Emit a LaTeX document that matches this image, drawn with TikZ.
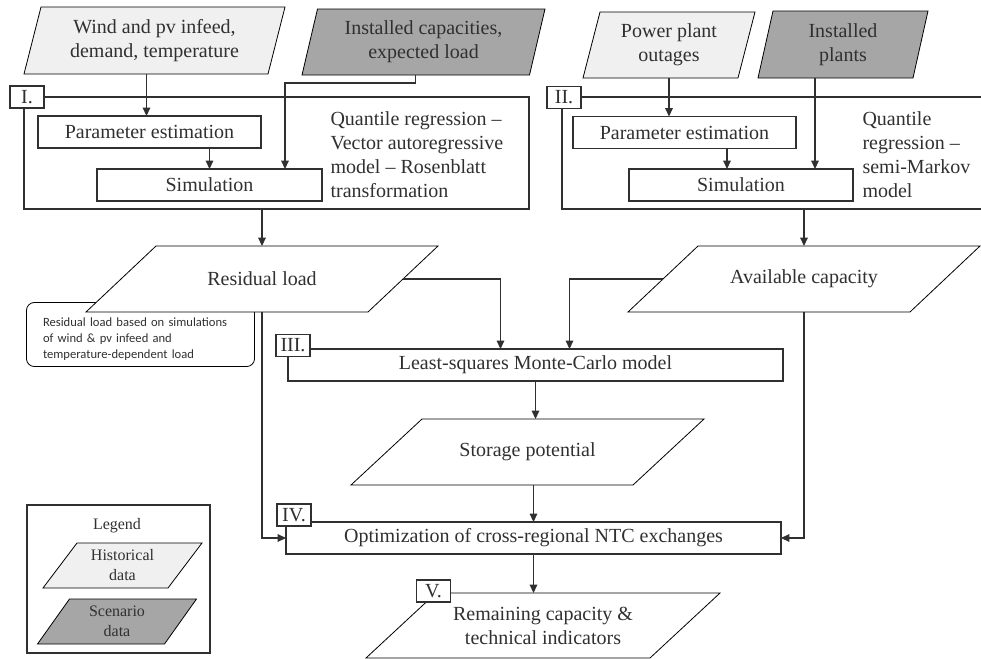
\documentclass[tikz,border=0pt]{standalone}
\usepackage{fontspec}
\setmainfont{Liberation Serif}
\newfontfamily\notefont{Carlito}
\usetikzlibrary{arrows.meta,positioning,fit,backgrounds}

\definecolor{histgray}{HTML}{F0F0F0}
\definecolor{scengray}{HTML}{A6A6A6}
\definecolor{inkgray}{HTML}{303030}

% parallelogram inside the box of a named node: node, slant, fill
\newcommand{\dataframe}[3]{%
  \draw[fill=#3] ([xshift=#2]#1.north west) -- (#1.north east)
    -- ([xshift=-#2]#1.south east) -- (#1.south west) -- cycle;}

\begin{document}
\begin{tikzpicture}[
    font=\fontsize{10}{12}\selectfont,
    >={Triangle[length=4.2pt,width=3.8pt]},
    x=0.5pt, y=-0.5pt,
    color=inkgray, line width=0.55pt,
    data/.style={rectangle, align=center, inner sep=0pt, outer sep=0pt, minimum height=33pt},
    keyitem/.style={data, minimum height=22.5pt, minimum width=79.5pt, font=\fontsize{8}{10}\selectfont},
    stepbox/.style={draw, rectangle, outer sep=0pt, minimum height=16pt},
    frame/.style={draw, rectangle, inner sep=0pt, outer sep=0pt},
    tag/.style={draw, fill=white, minimum width=17pt, minimum height=11pt, inner sep=1pt},
    method/.style={align=left, anchor=north west, inner sep=0pt},
    note/.style={align=left, inner xsep=8pt, inner ysep=1pt, text width=97.5pt, minimum height=31.5pt,
        font=\notefont\fontsize{6.3}{8}\selectfont}
]
    \useasboundingbox (0,0) rectangle (981,659);

    % I. residual load block
    \node[frame, fit={(24,97) (529,209)}] (blockI) {};
    \node[data, minimum width=130.5pt, minimum height=33.5pt] (wind) at (154.5,40.5) {Wind and pv infeed,\\demand, temperature};
    \node[data, minimum width=121.5pt] (instcap) at (423.5,42) {Installed capacities,\\expected load};
    \node[stepbox, minimum width=111.5pt] (pe1) at (149.5,132) {Parameter estimation};
    \node[stepbox, minimum width=112.5pt] (sim1) at (209.5,185) {Simulation};
    \node[method] (methI) at (330,111) {Quantile regression --\\Vector autoregressive\\model -- Rosenblatt\\transformation};
    \coordinate (windout) at ([xshift=-4pt]wind.south);
    \coordinate (capout) at ([xshift=-4pt]instcap.south);
    \coordinate (capin) at ([xshift=-18.5pt]sim1.north east);
    \draw[->] (windout) -- (windout |- pe1.north);
    \draw[->] (sim1.north |- pe1.south) -- (sim1.north);
    \draw[->] (capout) -- ++(0,8) -| (capin);

    % II. available capacity block
    \node[frame, fit={(562,97) (1000,209)}] (blockII) {};
    \node[data, minimum width=86pt] (outages) at (669,45) {Power plant\\outages};
    \node[data, minimum width=85pt, minimum height=33.5pt] (plants) at (843,44.5) {Installed\\plants};
    \node[stepbox, minimum width=111.5pt] (pe2) at (684.5,132.5) {Parameter estimation};
    \node[stepbox, minimum width=112pt] (sim2) at (741,185) {Simulation};
    \node[method] (methII) at (862,111) {Quantile\\regression --\\semi-Markov\\model};
    \coordinate (plantin) at ([xshift=-19pt]sim2.north east);
    \coordinate (simin) at ([xshift=-7pt]sim2.north);
    \draw[->] (outages.south) -- (outages.south |- pe2.north);
    \draw[->] (simin |- pe2.south) -- (simin);
    \draw[->] (plantin |- plants.south) -- (plantin);

    % intermediate results
    \node[note] (remark) at (140.5,334.5) {\rule{0pt}{9.5pt}Residual load based on simulations\\of wind \& pv infeed and\\temperature-dependent load};
    \node[data, minimum width=176pt] (res) at (262,279) {Residual load};
    \node[data, minimum width=176pt] (avail) at (804,279) {Available capacity};
    \coordinate (resside) at ([xshift=-17.5pt]res.east);
    \coordinate (availside) at ([xshift=17.5pt]avail.west);
    \draw[->] (res.center |- blockI.south) -- (res.north);
    \draw[->] (avail.center |- blockII.south) -- (avail.north);

    % III. - V.
    \node[stepbox, minimum width=247.5pt] (lsmc) at (535.5,365) {Least-squares Monte-Carlo model};
    \node[data, minimum width=176.5pt] (storage) at (527.5,452) {Storage potential};
    \node[stepbox, minimum width=247.5pt] (ntc) at (533.5,538) {Optimization of cross-regional NTC exchanges};
    \node[data, minimum width=177pt, minimum height=32.5pt] (remain) at (543,625.5) {Remaining capacity \&\\technical indicators};
    \draw[->] (resside) -| ([xshift=-17.5pt]lsmc.north);
    \draw[->] (availside) -| ([xshift=17pt]lsmc.north);
    \draw[->] (lsmc.south) -- (lsmc.south |- storage.north);
    \draw[->] (ntc.north |- storage.south) -- (ntc.north);
    \draw[->] (res.south) |- (ntc.west);
    \draw[->] (avail.south) |- (ntc.east);
    \draw[->] (ntc.south) -- (ntc.south |- remain.north);

    % step tags
    \node[tag] (tagI) at (27,97) {I.};
    \node[tag] (tagII) at (564,97.5) {II.};
    \node[tag] (tagIII) at (293,345.5) {III.};
    \node[tag] (tagIV) at (294,515) {IV.};
    \node[tag] (tagV) at (433.5,591) {V.};

    % legend
    \node[frame, fit={(27,505) (210,653)}] (legend) {};
    \node[font=\fontsize{8}{10}\selectfont] (legtitle) at (117,526) {Legend};
    \node[keyitem] (keyhist) at (122.5,565.5) {Historical\\data};
    \node[keyitem] (keyscen) at (117,621.5) {Scenario\\data};

    % data shapes behind their texts
    \begin{scope}[on background layer]
        \draw[rounded corners=4pt] (remark.north west) rectangle (remark.south east);
        \dataframe{wind}{8.5pt}{histgray}
        \dataframe{instcap}{7.75pt}{scengray}
        \dataframe{outages}{8.5pt}{histgray}
        \dataframe{plants}{7.5pt}{scengray}
        \dataframe{res}{35pt}{white}
        \dataframe{avail}{35pt}{white}
        \dataframe{storage}{35.5pt}{white}
        \dataframe{remain}{35pt}{white}
        \dataframe{keyhist}{17pt}{histgray}
        \dataframe{keyscen}{16pt}{scengray}
    \end{scope}
\end{tikzpicture}
\end{document}
